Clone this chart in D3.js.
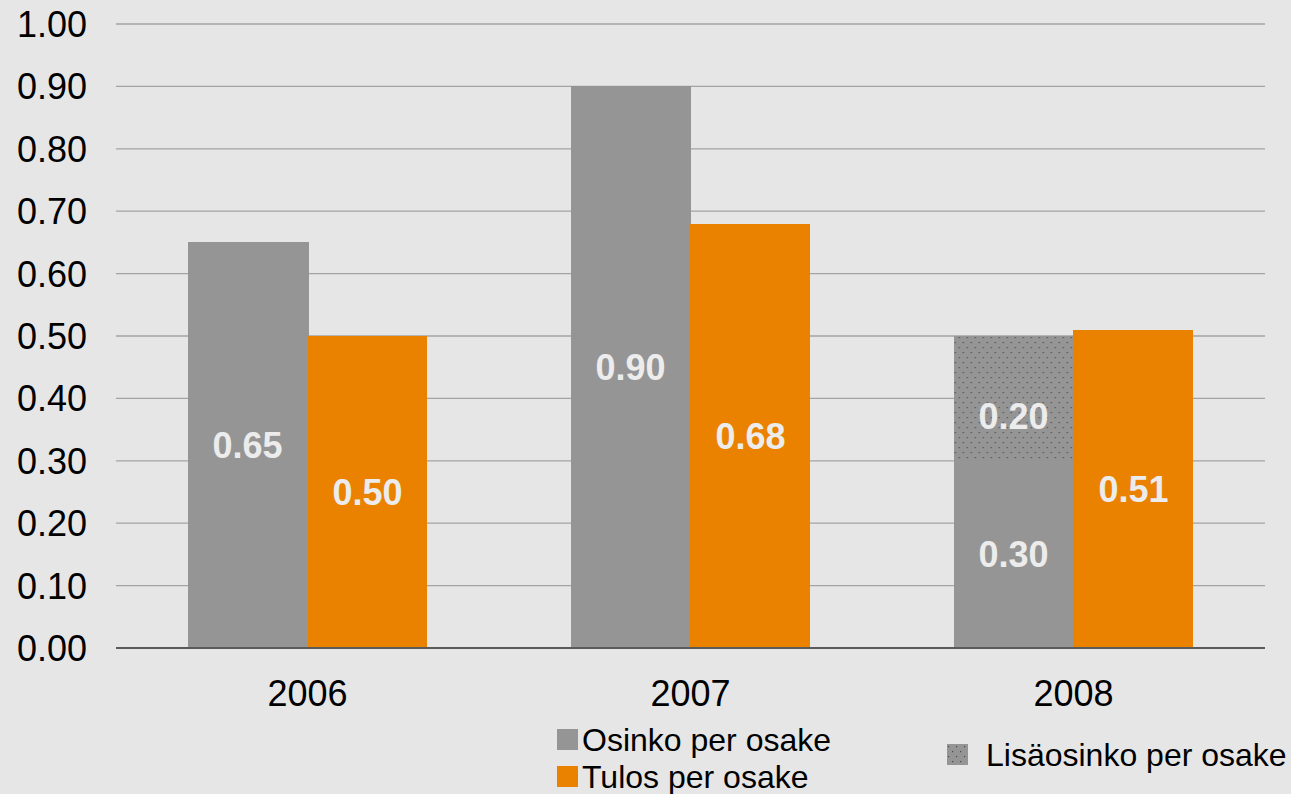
<!DOCTYPE html>
<html>
<head>
<meta charset="utf-8">
<script src="https://cdn.jsdelivr.net/npm/d3@7"></script>
<style>
  body { margin: 0; background: #e6e6e6; }
  svg { display: block; font-family: "Liberation Sans", Arial, sans-serif; }
</style>
</head>
<body>
<svg id="chart" width="1291" height="794"></svg>
<script>
// chart data
var years = ["2006", "2007", "2008"];
var osinko = [0.65, 0.90, 0.30];      // Osinko per osake
var lisaosinko = [0, 0, 0.20];        // Lisäosinko per osake (stacked on osinko)
var tulos = [0.50, 0.68, 0.51];       // Tulos per osake
var yTicks = [0, 0.1, 0.2, 0.3, 0.4, 0.5, 0.6, 0.7, 0.8, 0.9, 1.0];

var grey = "#959595";
var orange = "#ea8200";

var svg = d3.select("#chart");

// background
svg.append("rect").attr("width", 1291).attr("height", 794).attr("fill", "#e6e6e6");

// dotted pattern for the extra dividend
var defs = svg.append("defs");
var pat = defs.append("pattern")
    .attr("id", "dots")
    .attr("patternUnits", "userSpaceOnUse")
    .attr("width", 8).attr("height", 10);
pat.append("rect").attr("width", 8).attr("height", 10).attr("fill", grey);
pat.append("rect").attr("x", 1).attr("y", 2).attr("width", 1.2).attr("height", 1.2).attr("fill", "#4a4a4a");
pat.append("rect").attr("x", 5).attr("y", 7).attr("width", 1.2).attr("height", 1.2).attr("fill", "#4a4a4a");

var x = d3.scaleBand()
    .domain(years)
    .range([116, 1265])
    .paddingInner(0.374)
    .paddingOuter(0.187);

var y = d3.scaleLinear()
    .domain([0, 1])
    .range([648, 24]);

var sub = d3.scaleBand()
    .domain(["osinko", "tulos"])
    .range([0, x.bandwidth()]);

// gridlines
svg.append("g")
    .selectAll("line")
    .data(yTicks.slice(1))
    .enter()
    .append("line")
    .attr("x1", 116).attr("x2", 1265)
    .attr("y1", function(d) { return y(d); })
    .attr("y2", function(d) { return y(d); })
    .attr("stroke", "#a3a3a3")
    .attr("stroke-width", 1.3);

// y axis tick labels
svg.append("g")
    .selectAll("text")
    .data(yTicks)
    .enter()
    .append("text")
    .attr("x", 87)
    .attr("y", function(d) { return y(d); })
    .attr("dy", "0.36em")
    .attr("text-anchor", "end")
    .attr("font-size", 36)
    .attr("fill", "#000")
    .text(d3.format(".2f"));

var groups = svg.append("g")
    .attr("shape-rendering", "crispEdges")
    .selectAll("g")
    .data(years)
    .enter()
    .append("g")
    .attr("transform", function(d) { return "translate(" + x(d) + ",0)"; });

// Osinko bars
groups.append("rect")
    .attr("x", sub("osinko"))
    .attr("width", sub.bandwidth() + 1)
    .attr("y", function(d, i) { return y(osinko[i]); })
    .attr("height", function(d, i) { return y(0) - y(osinko[i]); })
    .attr("fill", grey);

// Lisäosinko bars stacked on top
groups.filter(function(d, i) { return lisaosinko[i] > 0; })
    .append("rect")
    .attr("x", sub("osinko"))
    .attr("width", sub.bandwidth() + 1)
    .attr("y", function(d) { var i = years.indexOf(d); return y(osinko[i] + lisaosinko[i]); })
    .attr("height", function(d) { var i = years.indexOf(d); return y(osinko[i]) - y(osinko[i] + lisaosinko[i]); })
    .attr("fill", "url(#dots)");

// Tulos bars
groups.append("rect")
    .attr("x", sub("tulos"))
    .attr("width", sub.bandwidth())
    .attr("y", function(d, i) { return y(tulos[i]); })
    .attr("height", function(d, i) { return y(0) - y(tulos[i]); })
    .attr("fill", orange);

// value labels
var fmt = d3.format(".2f");
function label(g, cx, cy, txt) {
    g.append("text")
        .attr("x", cx).attr("y", cy)
        .attr("dy", "0.36em")
        .attr("text-anchor", "middle")
        .attr("font-size", 36)
        .attr("font-weight", "bold")
        .attr("fill", "#ececec")
        .attr("shape-rendering", "auto")
        .text(txt);
}
groups.each(function(d, i) {
    var g = d3.select(this);
    var cx1 = sub("osinko") + sub.bandwidth() / 2;
    var cx2 = sub("tulos") + sub.bandwidth() / 2;
    label(g, cx1, (y(0) + y(osinko[i])) / 2, fmt(osinko[i]));
    if (lisaosinko[i] > 0) {
        label(g, cx1, (y(osinko[i]) + y(osinko[i] + lisaosinko[i])) / 2 + 18, fmt(lisaosinko[i]));
    }
    label(g, cx2, (y(0) + y(tulos[i])) / 2, fmt(tulos[i]));
});

// x axis line
svg.append("line")
    .attr("x1", 116).attr("x2", 1265)
    .attr("y1", y(0)).attr("y2", y(0))
    .attr("stroke", "#5a5a5a")
    .attr("stroke-width", 2);

// category labels
svg.append("g")
    .selectAll("text")
    .data(years)
    .enter()
    .append("text")
    .attr("x", function(d) { return x(d) + x.bandwidth() / 2; })
    .attr("y", 706)
    .attr("text-anchor", "middle")
    .attr("font-size", 36)
    .attr("fill", "#000")
    .text(function(d) { return d; });

// legend
var legendItems = [
    { name: "Osinko per osake", fill: grey, x: 557, y: 729 },
    { name: "Tulos per osake", fill: orange, x: 557, y: 766 },
    { name: "Lisäosinko per osake", fill: "url(#dots)", x: 947, y: 744 }
];
var leg = svg.append("g")
    .selectAll("g")
    .data(legendItems)
    .enter()
    .append("g")
    .attr("transform", function(d) { return "translate(" + d.x + "," + d.y + ")"; });
leg.append("rect")
    .attr("width", 21).attr("height", 21)
    .attr("fill", function(d) { return d.fill; });
leg.append("text")
    .attr("x", function(d, i) { return i == 2 ? 39 : 25; })
    .attr("y", 10.5)
    .attr("dy", "0.36em")
    .attr("font-size", 32)
    .attr("fill", "#000")
    .text(function(d) { return d.name; });
</script>
</body>
</html>
